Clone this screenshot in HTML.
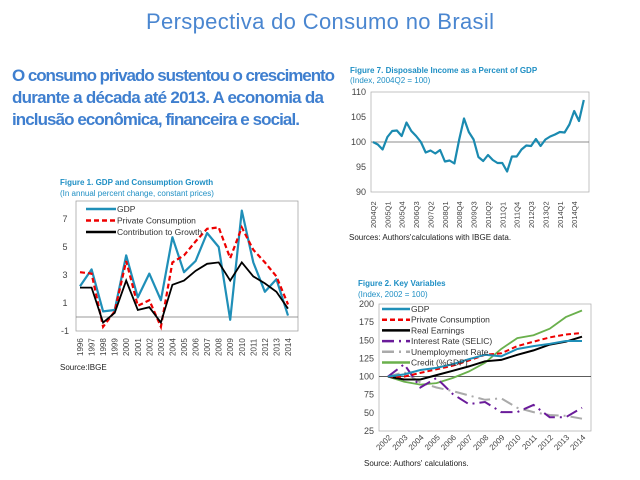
<!DOCTYPE html>
<html><head><meta charset="utf-8"><style>
body{margin:0;background:#fff}
svg{display:block;font-family:"Liberation Sans",sans-serif}
</style></head><body>
<svg id="s" width="640" height="480" viewBox="0 0 640 480">
<text x="320" y="29" text-anchor="middle" font-size="22" fill="#4a86d0" textLength="348">Perspectiva do Consumo no Brasil</text>
<g font-size="17" font-weight="bold" fill="#3f7fcf">
<text x="12" y="81" textLength="323">O consumo privado sustentou o crescimento</text>
<text x="12" y="103" textLength="312">durante a década até 2013. A economia da</text>
<text x="12" y="125" textLength="288">inclusão econômica, financeira e social.</text>
</g>
<g id="c1">
<text x="60" y="185" font-size="8" font-weight="bold" fill="#1f8fc4">Figure 1. GDP and Consumption Growth</text>
<text x="60" y="196" font-size="8" fill="#1f8fc4">(In annual percent change, constant prices)</text>
<text x="60" y="370" font-size="8" fill="#222">Source:IBGE</text>
</g>
<g id="c7">
<text x="350" y="73" font-size="8" font-weight="bold" fill="#1f8fc4">Figure 7. Disposable Income as a Percent of GDP</text>
<text x="350" y="83" font-size="8" fill="#1f8fc4">(Index, 2004Q2 = 100)</text>
<text x="349" y="240" font-size="8" fill="#222">Sources: Authors'calculations with IBGE data.</text>
</g>
<g id="c2">
<text x="358" y="286" font-size="8" font-weight="bold" fill="#1f8fc4">Figure 2. Key Variables</text>
<text x="358" y="297" font-size="8" fill="#1f8fc4">(Index, 2002 = 100)</text>
<text x="364" y="466" font-size="8" fill="#222">Source: Authors' calculations.</text>
</g>
</svg>
<script>
// Figure 1 data
const years1 = ["1996","1997","1998","1999","2000","2001","2002","2003","2004","2005","2006","2007","2008","2009","2010","2011","2012","2013","2014"];
const gdp1 = [2.2,3.4,0.4,0.5,4.4,1.4,3.1,1.2,5.7,3.2,4.0,6.0,5.0,-0.2,7.6,3.9,1.8,2.7,0.1];
const pc1 = [3.2,3.1,-0.7,0.4,4.0,0.8,1.2,-0.7,3.9,4.4,5.4,6.3,6.4,4.2,6.4,4.8,3.9,2.9,0.9];
const contrib1 = [2.1,2.1,-0.4,0.3,2.6,0.5,0.7,-0.4,2.3,2.6,3.3,3.8,3.9,2.6,3.9,2.9,2.4,1.8,0.6];
const ticks1 = [-1,1,3,5,7];
// Figure 7 data
const quarters7 = ["2004Q2","2004Q3","2004Q4","2005Q1","2005Q2","2005Q3","2005Q4","2006Q1","2006Q2","2006Q3","2006Q4","2007Q1","2007Q2","2007Q3","2007Q4","2008Q1","2008Q2","2008Q3","2008Q4","2009Q1","2009Q2","2009Q3","2009Q4","2010Q1","2010Q2","2010Q3","2010Q4","2011Q1","2011Q2","2011Q3","2011Q4","2012Q1","2012Q2","2012Q3","2012Q4","2013Q1","2013Q2","2013Q3","2013Q4","2014Q1","2014Q2","2014Q3","2014Q4","2015Q1","2015Q2"];
const income7 = [100,99.5,98.5,101,102.2,102.3,101.2,103.9,102.2,101.2,100,97.9,98.3,97.7,98.4,96.1,96.3,95.7,100.5,104.7,102,100.5,97,96.2,97.4,96.4,95.8,95.8,94.1,97.1,97.1,98.5,99.3,99.2,100.6,99.2,100.5,101.1,101.5,102,101.9,103.5,106.2,104.2,108.4];
const ticks7 = [90,95,100,105,110];
// Figure 2 data
const years2 = ["2002","2003","2004","2005","2006","2007","2008","2009","2010","2011","2012","2013","2014"];
const gdp2 = [100,103,109,112,117,124,130,128,138,142,145,149,149];
const pc2 = [100,100,105,110,115,122,130,132,142,148,154,158,160];
const earn2 = [100,96,96,102,108,114,121,123,130,136,144,148,155];
const selic2 = [100,117,85,98,76,62,65,51,51,61,44,44,57];
const unemp2 = [100,106,92,85,80,74,68,70,57,51,47,46,42];
const credit2 = [100,93,89,91,98,107,119,138,153,157,166,182,191];
const ticks2 = [25,50,75,100,125,150,175,200];

const NS="http://www.w3.org/2000/svg";
function mk(parent,tag,attrs){const e=document.createElementNS(NS,tag);for(const k in attrs)e.setAttribute(k,attrs[k]);parent.appendChild(e);return e;}
function pathD(vals,fx,fy){return vals.map((v,i)=>(i?"L":"M")+fx(i).toFixed(1)+","+fy(v).toFixed(1)).join("");}

// ---- Figure 1
(function(){
const g=document.getElementById('c1');
const fx=i=>80+i*(288-80)/(years1.length-1);
const fy=v=>317-v*14;
const box=mk(g,'rect',{x:76,y:201,width:222,height:130,fill:'none',stroke:'#999','stroke-width':0.7});


const z=mk(g,'line',{x1:76,x2:298,y1:fy(0),y2:fy(0),stroke:'#777','stroke-width':0.8});


ticks1.forEach(t=>{const e=mk(g,'text',{x:65,y:fy(t)+3,'font-size':9,fill:'#444','text-anchor':'middle'});e.textContent=t;

});
years1.forEach((y,i)=>{const e=mk(g,'text',{transform:`translate(${fx(i)+3},356) rotate(-90)`,'font-size':8,fill:'#444'});e.textContent=y;

});
const s1=mk(g,'path',{d:pathD(gdp1,fx,fy),fill:'none',stroke:'#1f8fb8','stroke-width':2.2,'stroke-linejoin':'round'});


const s2=mk(g,'path',{d:pathD(pc1,fx,fy),fill:'none',stroke:'#e00','stroke-width':2.2,'stroke-dasharray':'5,3'});


const s3=mk(g,'path',{d:pathD(contrib1,fx,fy),fill:'none',stroke:'#000','stroke-width':1.8});


[["GDP",'#1f8fb8',''],["Private Consumption",'#e00','5,3'],["Contribution to Growth",'#000','']].forEach((l,i)=>{
const y=209+i*11.5;
const ln=mk(g,'line',{x1:86,x2:116,y1:y,y2:y,stroke:l[1],'stroke-width':2.5,'stroke-dasharray':l[2]});


const t=mk(g,'text',{x:117,y:y+3,'font-size':8.5,fill:'#333'});t.textContent=l[0];

});
})();

// ---- Figure 7
(function(){
const g=document.getElementById('c7');
const fx=i=>373+i*4.79;
const fy=v=>92+(110-v)*5;
const box=mk(g,'rect',{x:371,y:92,width:218,height:100,fill:'none',stroke:'#aaa','stroke-width':0.7});


const b=mk(g,'line',{x1:371,x2:589,y1:fy(100),y2:fy(100),stroke:'#666','stroke-width':0.8});


ticks7.forEach(t=>{const e=mk(g,'text',{x:366,y:fy(t)+3,'font-size':9,fill:'#444','text-anchor':'end'});e.textContent=t;

});
quarters7.forEach((q,i)=>{if(i%3)return;const e=mk(g,'text',{transform:`translate(${fx(i)+3},228) rotate(-90)`,'font-size':7.5,fill:'#444'});e.textContent=q;

});
const s=mk(g,'path',{d:pathD(income7,fx,fy),fill:'none',stroke:'#1a8ab0','stroke-width':2.2,'stroke-linejoin':'round'});


})();

// ---- Figure 2
(function(){
const g=document.getElementById('c2');
const fx=i=>388+i*(582-388)/(years2.length-1);
const fy=v=>304+(200-v)*127/175;
const box=mk(g,'rect',{x:379,y:304,width:212,height:127,fill:'none',stroke:'#aaa','stroke-width':0.7});


const b=mk(g,'line',{x1:379,x2:591,y1:fy(100),y2:fy(100),stroke:'#444','stroke-width':0.8});


ticks2.forEach(t=>{const e=mk(g,'text',{x:374,y:fy(t)+3,'font-size':9,fill:'#444','text-anchor':'end'});e.textContent=t;

});
years2.forEach((y,i)=>{const e=mk(g,'text',{transform:`translate(${fx(i)+4},438) rotate(-45)`,'font-size':8,fill:'#444','text-anchor':'end'});e.textContent=y;

});
const series=[[credit2,'#6ab04c','',1.8,'credit-line'],[unemp2,'#aaa','12,5,2,5',2,'unemployment-line'],[selic2,'#6a1b9a','12,5,2,5',2,'selic-line'],[earn2,'#000','',2,'real-earnings-line'],[pc2,'#e00','5,3',2,'private-consumption-line'],[gdp2,'#1f8fb8','',2,'gdp-line']];
series.forEach(s=>{const p=mk(g,'path',{d:pathD(s[0],fx,fy),fill:'none',stroke:s[1],'stroke-width':s[3],'stroke-dasharray':s[2]});

});
[["GDP",'#1f8fb8',''],["Private Consumption",'#e00','5,3'],["Real Earnings",'#000',''],["Interest Rate (SELIC)",'#6a1b9a','12,5,2,5'],["Unemployment Rate",'#aaa','12,5,2,5'],["Credit (%GDP)",'#6ab04c','']].forEach((l,i)=>{
const y=309+i*10.7;
const ln=mk(g,'line',{x1:382,x2:410,y1:y,y2:y,stroke:l[1],'stroke-width':2.5,'stroke-dasharray':l[2]});


const t=mk(g,'text',{x:411,y:y+3,'font-size':8.5,fill:'#333'});t.textContent=l[0];

});
})();
</script>
</body></html>
